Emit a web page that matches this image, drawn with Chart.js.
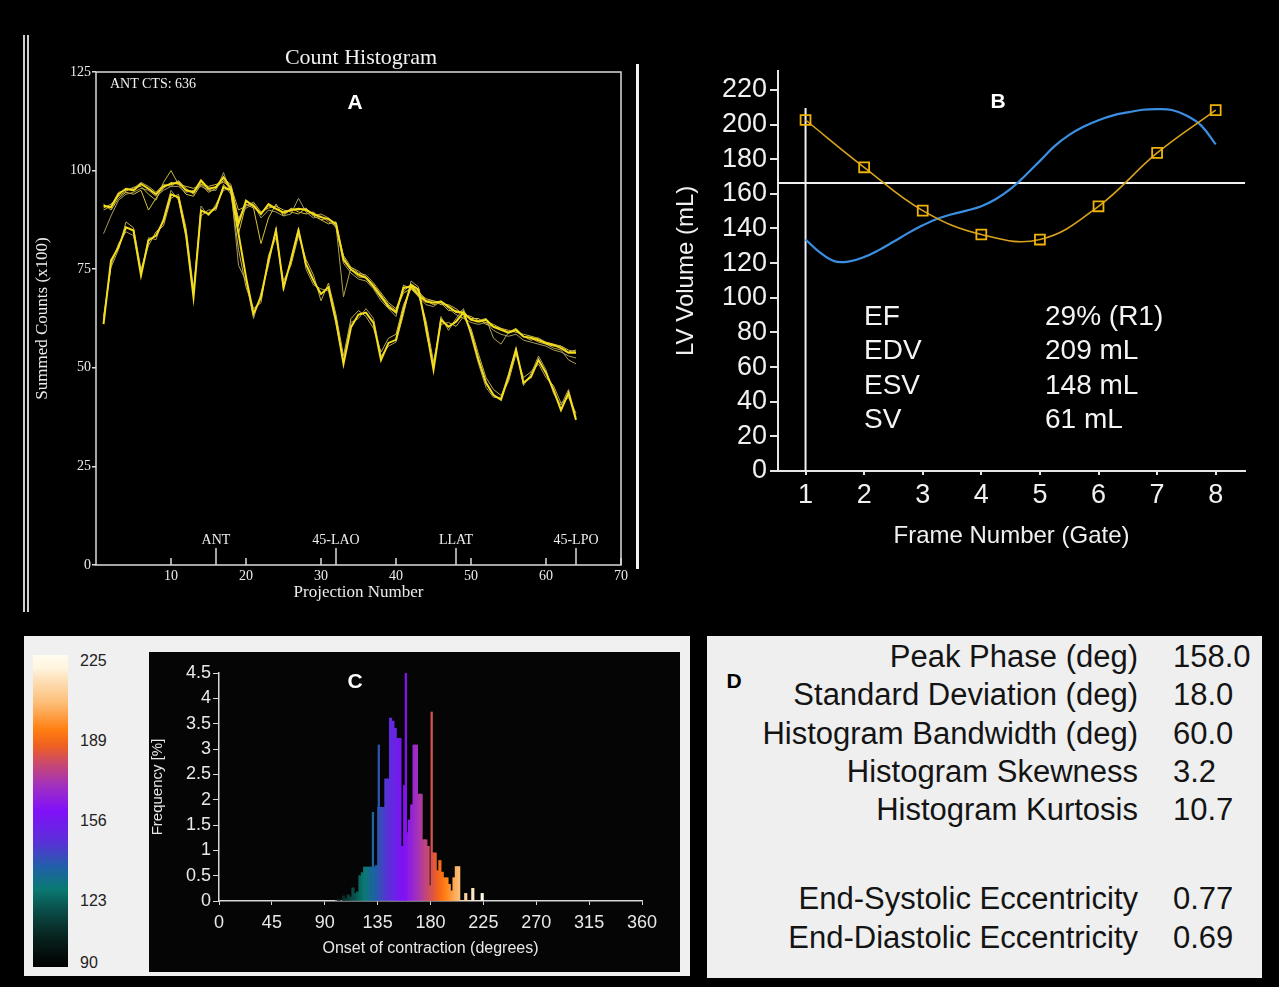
<!DOCTYPE html>
<html>
<head>
<meta charset="utf-8">
<title>Gated SPECT summary</title>
<script src="https://cdn.jsdelivr.net/npm/chart.js@4.4.1/dist/chart.umd.min.js"></script>
<style>
  html, body { margin: 0; padding: 0; background: #000; }
  body { position: relative; width: 1279px; height: 987px; overflow: hidden; font-family: "Liberation Sans", Arial, sans-serif; }
  .box, .txt, canvas { position: absolute; }
  .txt { white-space: nowrap; }
  .serif { font-family: "Liberation Serif", "DejaVu Serif", serif; }
  .letter { font-weight: bold; font-size: 21px; line-height: 24px; width: 30px; text-align: center; }
  .stat { color: #f4f4f4; font-size: 28px; line-height: 32px; }
  .slab { left: 864px; }
  .sval { left: 1045px; }
  .drow { color: #141414; font-size: 31px; line-height: 34px; }
  .dlab { left: 708px; width: 430px; text-align: right; }
  .dval { left: 1173px; }
  .cbl { left: 80px; font-size: 16px; line-height: 18px; color: #222; }
</style>
</head>
<body>

<!-- A: count histogram -->
<div class="box" style="left:23px;top:35px;width:2px;height:577px;background:#cfcfcf"></div>
<div class="box" style="left:27px;top:35px;width:2px;height:577px;background:#cfcfcf"></div>
<canvas id="chartA" width="605" height="580" style="left:30px;top:30px"></canvas>
<div class="txt serif" style="left:261px;top:44px;width:200px;text-align:center;font-size:22px;line-height:25px;color:#f2f2f2">Count Histogram</div>
<div class="txt serif" style="left:110px;top:76px;font-size:14px;line-height:16px;color:#f2f2f2">ANT CTS: 636</div>
<div class="txt letter" style="left:340px;top:90px;color:#fff">A</div>

<!-- B: volume curve -->
<div class="box" style="left:636px;top:64px;width:3px;height:505px;background:#f2f2f2"></div>
<canvas id="chartB" width="621" height="506" style="left:641px;top:62px"></canvas>
<div class="txt letter" style="left:983px;top:89px;color:#fff">B</div>
<div class="txt stat slab" style="top:300px">EF</div>
<div class="txt stat slab" style="top:334px">EDV</div>
<div class="txt stat slab" style="top:369px">ESV</div>
<div class="txt stat slab" style="top:403px">SV</div>
<div class="txt stat sval" style="top:300px">29% (R1)</div>
<div class="txt stat sval" style="top:334px">209 mL</div>
<div class="txt stat sval" style="top:369px">148 mL</div>
<div class="txt stat sval" style="top:403px">61 mL</div>

<!-- C: phase histogram -->
<div class="box" style="left:24px;top:636px;width:666px;height:340px;background:#f0f0f0"></div>
<div class="box" id="cbar" style="left:33px;top:655px;width:35px;height:312px"></div>
<div class="txt cbl" style="top:652px">225</div>
<div class="txt cbl" style="top:732px">189</div>
<div class="txt cbl" style="top:812px">156</div>
<div class="txt cbl" style="top:892px">123</div>
<div class="txt cbl" style="top:954px">90</div>
<canvas id="chartC" width="531" height="320" style="left:149px;top:652px;background:#050505"></canvas>
<div class="txt letter" style="left:340px;top:669px;color:#fff">C</div>

<!-- D: phase statistics -->
<div class="box" style="left:707px;top:636px;width:555px;height:342px;background:#efefef"></div>
<div class="txt letter" style="left:719px;top:669px;color:#000">D</div>
<div class="txt drow dlab" style="top:640px">Peak Phase (deg)</div>
<div class="txt drow dlab" style="top:678px">Standard Deviation (deg)</div>
<div class="txt drow dlab" style="top:717px">Histogram Bandwidth (deg)</div>
<div class="txt drow dlab" style="top:755px">Histogram Skewness</div>
<div class="txt drow dlab" style="top:793px">Histogram Kurtosis</div>
<div class="txt drow dlab" style="top:882px">End-Systolic Eccentricity</div>
<div class="txt drow dlab" style="top:921px">End-Diastolic Eccentricity</div>
<div class="txt drow dval" style="top:640px">158.0</div>
<div class="txt drow dval" style="top:678px">18.0</div>
<div class="txt drow dval" style="top:717px">60.0</div>
<div class="txt drow dval" style="top:755px">3.2</div>
<div class="txt drow dval" style="top:793px">10.7</div>
<div class="txt drow dval" style="top:882px">0.77</div>
<div class="txt drow dval" style="top:921px">0.69</div>

<script>
// ---- A: summed counts per projection (x100), one line per gate ----
const projections = Array.from({ length: 64 }, (_, i) => i + 1);
const xTicksA = [10, 20, 30, 40, 50, 60, 70];
const yTicksA = [0, 25, 50, 75, 100, 125];
const viewPos = [16, 32, 48, 64];
const viewLabels = ['ANT', '45-LAO', 'LLAT', '45-LPO'];

const gate1 = [91.1, 90.7, 94.0, 95.4, 95.0, 96.6, 95.4, 94.0, 96.0, 96.6,
  97.0, 95.0, 94.5, 97.5, 95.4, 95.8, 98.3, 95.4, 86.5, 92.4,
  91.0, 89.0, 91.5, 90.3, 89.4, 90.0, 90.3, 90.0, 89.0, 88.2,
  87.7, 86.5, 77.4, 74.9, 73.6, 72.8, 70.6, 68.0, 65.5, 64.0,
  70.3, 70.6, 68.5, 66.8, 66.5, 66.8, 65.5, 64.2, 63.9, 62.2,
  61.7, 62.2, 60.4, 59.6, 58.9, 59.6, 57.9, 57.6, 57.0, 56.3,
  55.8, 55.0, 53.8, 53.8];
const gate2 = [90.5, 91.5, 93.5, 94.8, 95.8, 96.0, 94.0, 92.5, 97.0, 100.0,
  96.5, 96.0, 95.5, 96.5, 96.0, 96.5, 97.0, 96.0, 90.0, 91.0,
  92.0, 89.5, 90.5, 91.0, 90.0, 89.5, 89.0, 90.5, 88.5, 87.5,
  88.0, 85.5, 78.5, 75.5, 74.0, 73.5, 71.5, 69.0, 66.5, 65.0,
  69.5, 71.0, 69.0, 67.5, 67.0, 66.0, 66.0, 65.0, 63.5, 63.0,
  62.0, 61.5, 61.0, 60.0, 59.5, 59.0, 58.5, 58.0, 57.5, 56.5,
  56.0, 55.5, 54.5, 54.0];
const gate3 = [84.0, 88.5, 92.5, 94.0, 94.5, 95.5, 95.0, 93.5, 95.0, 96.0,
  96.0, 94.5, 95.0, 96.0, 95.0, 95.0, 99.5, 94.5, 88.0, 90.5,
  91.5, 88.0, 90.0, 89.5, 88.5, 89.0, 93.0, 89.5, 88.0, 88.5,
  87.0, 86.0, 76.5, 74.0, 72.5, 72.0, 70.0, 67.0, 65.0, 63.0,
  71.0, 70.0, 68.0, 66.0, 65.5, 67.0, 65.0, 63.5, 62.5, 61.5,
  61.0, 61.5, 59.5, 58.5, 58.0, 58.5, 57.0, 56.5, 56.0, 55.5,
  54.5, 54.0, 53.0, 52.5];
const gate4 = [91.5, 90.0, 93.0, 94.5, 94.0, 95.0, 90.0, 93.0, 95.5, 97.0,
  96.5, 94.0, 93.5, 96.5, 94.5, 95.5, 97.5, 95.0, 84.0, 91.5,
  90.5, 81.5, 88.0, 91.5, 88.5, 90.5, 89.5, 89.0, 89.5, 87.5,
  86.5, 87.0, 78.0, 75.0, 73.0, 73.0, 71.0, 68.5, 66.0, 64.5,
  69.0, 70.0, 69.5, 67.0, 66.0, 66.5, 64.5, 64.5, 64.0, 62.5,
  62.5, 61.0, 60.5, 60.0, 59.0, 60.0, 58.0, 57.0, 57.5, 56.0,
  55.5, 55.5, 54.0, 54.5];
const gate5 = [90.0, 91.0, 94.5, 95.0, 95.5, 97.0, 96.0, 94.5, 96.5, 96.0,
  97.5, 95.5, 94.0, 97.0, 95.0, 96.0, 98.0, 96.5, 87.5, 92.0,
  91.5, 89.0, 91.0, 90.5, 89.0, 90.0, 90.0, 90.5, 88.5, 89.0,
  88.0, 86.0, 68.0, 75.5, 74.5, 73.0, 71.0, 68.5, 65.0, 64.5,
  70.0, 71.0, 68.0, 67.0, 67.0, 66.5, 65.5, 64.0, 64.5, 62.0,
  62.0, 62.5, 57.5, 56.0, 59.0, 59.5, 58.0, 57.5, 56.5, 56.0,
  55.0, 54.5, 52.0, 51.0];
const gate6 = [61.1, 77.2, 80.6, 85.6, 84.8, 73.4, 82.3, 83.5, 87.3, 94.0,
  93.2, 84.0, 67.9, 89.9, 89.0, 90.7, 95.8, 95.0, 84.0, 73.0,
  63.7, 67.9, 77.2, 84.8, 70.4, 77.2, 84.8, 76.3, 72.1, 68.7,
  70.4, 62.0, 51.0, 60.3, 63.5, 64.0, 61.4, 52.0, 56.3, 57.1,
  64.7, 71.1, 69.8, 60.4, 49.5, 62.2, 60.4, 61.7, 64.0, 58.9,
  52.0, 46.2, 43.1, 41.9, 47.7, 54.6, 46.2, 47.7, 52.0, 48.7,
  44.4, 39.3, 43.6, 36.8];
const gate7 = [63.0, 75.5, 80.0, 87.0, 85.5, 75.0, 81.0, 84.5, 86.0, 93.0,
  94.0, 85.5, 70.0, 88.5, 90.0, 90.0, 96.5, 94.0, 80.0, 70.5,
  65.0, 66.5, 78.5, 83.0, 72.0, 76.0, 83.5, 77.5, 73.5, 67.0,
  71.5, 63.5, 53.0, 62.5, 64.5, 63.0, 60.0, 54.0, 57.5, 58.5,
  66.0, 70.0, 68.5, 62.0, 51.5, 61.0, 61.5, 60.5, 63.0, 60.0,
  53.5, 47.5, 44.5, 43.0, 46.5, 53.5, 47.5, 49.0, 51.0, 47.5,
  45.5, 41.0, 42.5, 38.5];
const gate8 = [62.0, 76.0, 81.5, 84.5, 83.5, 74.0, 83.0, 82.5, 88.0, 95.0,
  92.5, 83.0, 69.0, 91.0, 88.5, 91.5, 95.0, 95.5, 76.0, 72.0,
  62.5, 69.0, 76.0, 85.5, 69.5, 78.0, 85.5, 75.0, 71.0, 70.0,
  69.5, 61.0, 52.0, 61.5, 62.5, 65.0, 62.5, 53.0, 55.5, 56.5,
  63.5, 72.0, 70.5, 59.0, 50.5, 63.0, 59.5, 62.5, 65.0, 58.0,
  51.0, 45.0, 42.5, 42.5, 48.5, 55.0, 45.5, 48.5, 53.0, 49.5,
  43.5, 40.5, 44.5, 37.5];

// ---- B: LV volume by gate ----
const frames = [1, 2, 3, 4, 5, 6, 7, 8];
const volumeFit = [202.6, 175.3, 150.3, 136.5, 133.6, 152.8, 183.6, 208.3];
const curveX = [1, 1.25, 1.5, 1.75, 2, 2.25, 2.5, 2.75, 3, 3.25, 3.5, 3.75, 4, 4.25, 4.5,
  4.75, 5, 5.25, 5.5, 5.75, 6, 6.25, 6.5, 6.75, 7, 7.25, 7.5, 7.75, 8];
const curveY = [133.6, 126, 121, 121, 123.5, 127.5, 132.3, 137.3, 141.8, 145.6, 148.2, 150.3, 152.8, 157, 162.8,
  170.6, 179, 187.5, 194, 198.8, 202.5, 205.3, 207, 208.5, 208.9, 208.4, 205.2, 199.5, 188.5];
const yTicksB = [0, 20, 40, 60, 80, 100, 120, 140, 160, 180, 200, 220];
const edvFrame = 1;
const edvVolume = 209.5;
const refVolume = 166.2;

// ---- C: onset of contraction histogram ----
const histDeg = [100, 102, 104, 106, 108, 110, 112, 114, 116, 118,
  120, 122, 124, 126, 128, 130, 132, 134, 136, 138,
  140, 142, 144, 146, 148, 150, 152, 154, 156, 158,
  160, 162, 164, 166, 168, 170, 172, 174, 176, 178,
  180, 182, 184, 186, 188, 190, 192, 194, 196, 198,
  200, 202, 204, 206, 208, 210, 212, 214, 216, 218,
  220, 222, 224];
const histFreq = [0, 0.04, 0, 0.1, 0.05, 0.12, 0.08, 0.26, 0.15, 0.18,
  0.5, 0.56, 0.67, 0.67, 0.67, 0.67, 0.67, 0.7, 1.85, 1.85,
  1.85, 2.41, 2.41, 3.61, 3.55, 3.41, 3.21, 3.21, 1.08, 2.28,
  1.35, 1.6, 1.9, 3.08, 3.08, 2.11, 2.11, 1.21, 1.21, 1.08,
  0.3, 0.95, 0.95, 0.6, 0.8, 0.57, 0.46, 0.46, 0.33, 0.2,
  0.46, 0.68, 0.68, 0, 0, 0.15, 0, 0, 0.25, 0,
  0, 0, 0.15];
const spikeDeg = [131, 136, 159, 181];
const spikeFreq = [1.75, 3.08, 4.67, 3.73];
const xTicksC = [0, 45, 90, 135, 180, 225, 270, 315, 360];
const yTicksC = [0, 0.5, 1, 1.5, 2, 2.5, 3, 3.5, 4, 4.5];

// phase colour map (degrees -> colour), also used for the colour bar
const cmapValues = [90, 103.5, 114.3, 123.75, 133.2, 144, 157.5, 168.3, 177.75, 185.85, 192.6, 204.75, 214.2, 219.6, 225];
const cmapColors = ['#000000', '#082420', '#0a4c48', '#0a7a72', '#2060a8', '#5a30d8', '#8010f8', '#a030c0',
  '#c84870', '#f06020', '#ff7e10', '#fcc07a', '#fde0b8', '#fff5e0', '#fffbee'];

function hexToRgb(h) {
    const n = parseInt(h.slice(1), 16);
    return [(n >> 16) & 255, (n >> 8) & 255, n & 255];
}

function phaseColor(v) {
    if (v <= cmapValues[0]) return cmapColors[0];
    for (let i = 1; i < cmapValues.length; i++) {
        if (v <= cmapValues[i]) {
            const t = (v - cmapValues[i - 1]) / (cmapValues[i] - cmapValues[i - 1]);
            const a = hexToRgb(cmapColors[i - 1]);
            const b = hexToRgb(cmapColors[i]);
            return `rgb(${a.map((c, k) => Math.round(c + (b[k] - c) * t)).join(',')})`;
        }
    }
    return cmapColors[cmapColors.length - 1];
}

document.getElementById('cbar').style.background = 'linear-gradient(to top, ' +
    cmapValues.map((v, i) => `${cmapColors[i]} ${((v - 90) / 135 * 100).toFixed(1)}%`).join(', ') + ')';

Chart.defaults.font.family = '"Liberation Sans", Arial, sans-serif';
Chart.defaults.animation = false;
Chart.defaults.events = [];
Chart.defaults.plugins.legend.display = false;
Chart.defaults.plugins.tooltip.enabled = false;

const serif = '"Liberation Serif", "DejaVu Serif", serif';
const fixTicks = (list) => (axis) => { axis.ticks = list.map(v => ({ value: v })); };
const fixWidth = (w) => (axis) => { axis.width = w; axis.paddingTop = 0; axis.paddingBottom = 0; };
const fixHeight = (h) => (axis) => { axis.height = h; axis.paddingLeft = 0; axis.paddingRight = 0; };
const toPoints = (xs, ys) => xs.map((x, i) => ({ x: x, y: ys[i] }));

// frame, inward ticks and view markers for panel A
const frameA = {
    id: 'frameA',
    afterDraw(chart) {
        const { ctx, chartArea: a, scales: { x } } = chart;
        ctx.save();
        ctx.strokeStyle = '#dcdcdc';
        ctx.lineWidth = 1.5;
        ctx.strokeRect(a.left, a.top, a.right - a.left, a.bottom - a.top);
        ctx.beginPath();
        xTicksA.forEach(v => {
            const px = x.getPixelForValue(v);
            ctx.moveTo(px, a.bottom);
            ctx.lineTo(px, a.bottom - 7);
        });
        viewPos.forEach(v => {
            const px = x.getPixelForValue(v);
            ctx.moveTo(px, a.bottom);
            ctx.lineTo(px, a.bottom - 17);
        });
        ctx.stroke();
        ctx.fillStyle = '#f0f0f0';
        ctx.font = '14px ' + serif;
        ctx.textAlign = 'center';
        ctx.textBaseline = 'middle';
        viewPos.forEach((v, i) => ctx.fillText(viewLabels[i], x.getPixelForValue(v), a.bottom - 25));
        ctx.restore();
    }
};

const gateLines = [
    { data: gate1, color: '#f3dd1a', width: 2, order: 0 },
    { data: gate2, color: '#c9b440', width: 1, order: 1 },
    { data: gate3, color: '#a79a5e', width: 1, order: 1 },
    { data: gate4, color: '#d6c23c', width: 1, order: 1 },
    { data: gate5, color: '#b0a050', width: 1, order: 1 },
    { data: gate6, color: '#f5de1e', width: 2, order: 0 },
    { data: gate7, color: '#bfae4a', width: 1, order: 1 },
    { data: gate8, color: '#a89860', width: 1, order: 1 }
];

new Chart(document.getElementById('chartA'), {
    type: 'line',
    data: {
        datasets: gateLines.map(g => ({
            data: toPoints(projections, g.data),
            borderColor: g.color,
            borderWidth: g.width,
            order: g.order,
            pointRadius: 0,
            tension: 0
        }))
    },
    options: {
        responsive: false,
        layout: { padding: { top: 42, right: 14, left: 0, bottom: 0 } },
        scales: {
            x: {
                type: 'linear', min: 0, max: 70,
                afterBuildTicks: fixTicks(xTicksA),
                afterFit: fixHeight(45),
                grid: { display: false, drawTicks: false },
                border: { display: false },
                ticks: { color: '#ececec', font: { family: serif, size: 14 }, padding: 3, maxRotation: 0 },
                title: { display: true, text: 'Projection Number', color: '#ececec', font: { family: serif, size: 17 }, padding: { top: 0, bottom: 7 } }
            },
            y: {
                min: 0, max: 125,
                afterBuildTicks: fixTicks(yTicksA),
                afterFit: fixWidth(66),
                grid: { display: true, drawOnChartArea: false, drawTicks: true, tickLength: 4, color: '#dcdcdc', lineWidth: 1.5 },
                border: { display: false },
                ticks: { color: '#ececec', font: { family: serif, size: 14 }, padding: 1 },
                title: { display: true, text: 'Summed Counts (x100)', color: '#ececec', font: { family: serif, size: 17 }, padding: { top: 2, bottom: 0 } }
            }
        }
    },
    plugins: [frameA]
});

new Chart(document.getElementById('chartB'), {
    type: 'line',
    data: {
        datasets: [
            {
                data: toPoints(frames, volumeFit),
                borderColor: '#d9a21c', borderWidth: 1.6, tension: 0.4,
                pointStyle: 'rect', pointRadius: 7, pointBorderWidth: 1.8,
                pointBorderColor: '#f0b30a', pointBackgroundColor: 'rgba(0,0,0,0)'
            },
            {
                data: toPoints(curveX, curveY),
                borderColor: '#3a8fe3', borderWidth: 2.2, tension: 0.4, pointRadius: 0
            },
            {
                data: [{ x: edvFrame, y: 0 }, { x: edvFrame, y: edvVolume }],
                borderColor: '#f2f2f2', borderWidth: 2, pointRadius: 0
            },
            {
                data: [{ x: 0.53, y: refVolume }, { x: 8.5, y: refVolume }],
                borderColor: '#f2f2f2', borderWidth: 2, pointRadius: 0
            }
        ]
    },
    options: {
        responsive: false,
        layout: { padding: { top: 8, right: 17, left: 0, bottom: 0 } },
        scales: {
            x: {
                type: 'linear', min: 0.53, max: 8.5,
                afterBuildTicks: fixTicks(frames),
                afterFit: fixHeight(97),
                grid: { display: true, drawOnChartArea: false, drawTicks: true, tickLength: 4, color: '#e6e6e6', lineWidth: 2 },
                border: { display: true, color: '#e6e6e6', width: 2 },
                ticks: { color: '#f0f0f0', font: { size: 27 }, padding: 4, maxRotation: 0 },
                title: { display: true, text: 'Frame Number (Gate)', color: '#f0f0f0', font: { size: 24 }, padding: { top: 0, bottom: 17 } }
            },
            y: {
                min: 0, max: 231,
                afterBuildTicks: fixTicks(yTicksB),
                afterFit: fixWidth(137),
                grid: { display: true, drawOnChartArea: false, drawTicks: true, tickLength: 8, color: '#e6e6e6', lineWidth: 2 },
                border: { display: true, color: '#e6e6e6', width: 2 },
                ticks: { color: '#f0f0f0', font: { size: 27 }, padding: 3 },
                title: { display: true, text: 'LV Volume (mL)', color: '#f0f0f0', font: { size: 24 }, padding: { top: 31, bottom: 0 } }
            }
        }
    }
});

const barColor = (ctx) => (ctx.raw ? phaseColor(ctx.raw.x) : '#000');

new Chart(document.getElementById('chartC'), {
    type: 'bar',
    data: {
        datasets: [
            { data: toPoints(histDeg, histFreq), backgroundColor: barColor, barThickness: 2.5, grouped: false, order: 1 },
            { data: toPoints(spikeDeg, spikeFreq), backgroundColor: barColor, barThickness: 1.6, grouped: false, order: 0 }
        ]
    },
    options: {
        responsive: false,
        layout: { padding: { top: 21, right: 38, left: 0, bottom: 0 } },
        scales: {
            x: {
                type: 'linear', min: 0, max: 360, offset: false,
                afterBuildTicks: fixTicks(xTicksC),
                afterFit: fixHeight(71),
                grid: { display: true, offset: false, drawOnChartArea: false, drawTicks: true, tickLength: 4, color: '#d8d8d8' },
                border: { display: true, color: '#d8d8d8', width: 1.5 },
                ticks: { color: '#e8e8e8', font: { size: 18 }, padding: 7, maxRotation: 0 },
                title: { display: true, text: 'Onset of contraction (degrees)', color: '#e8e8e8', font: { size: 16 }, padding: { top: 0, bottom: 14 } }
            },
            y: {
                min: 0, max: 4.5,
                afterBuildTicks: fixTicks(yTicksC),
                afterFit: fixWidth(70),
                grid: { display: true, drawOnChartArea: false, drawTicks: true, tickLength: 6, color: '#d8d8d8' },
                border: { display: true, color: '#d8d8d8', width: 1.5 },
                ticks: { color: '#e8e8e8', font: { size: 18 }, padding: 2, callback: v => String(v) },
                title: { display: true, text: 'Frequency [%]', color: '#e8e8e8', font: { size: 15 }, padding: { top: 0, bottom: 0 } }
            }
        }
    }
});
</script>
</body>
</html>
